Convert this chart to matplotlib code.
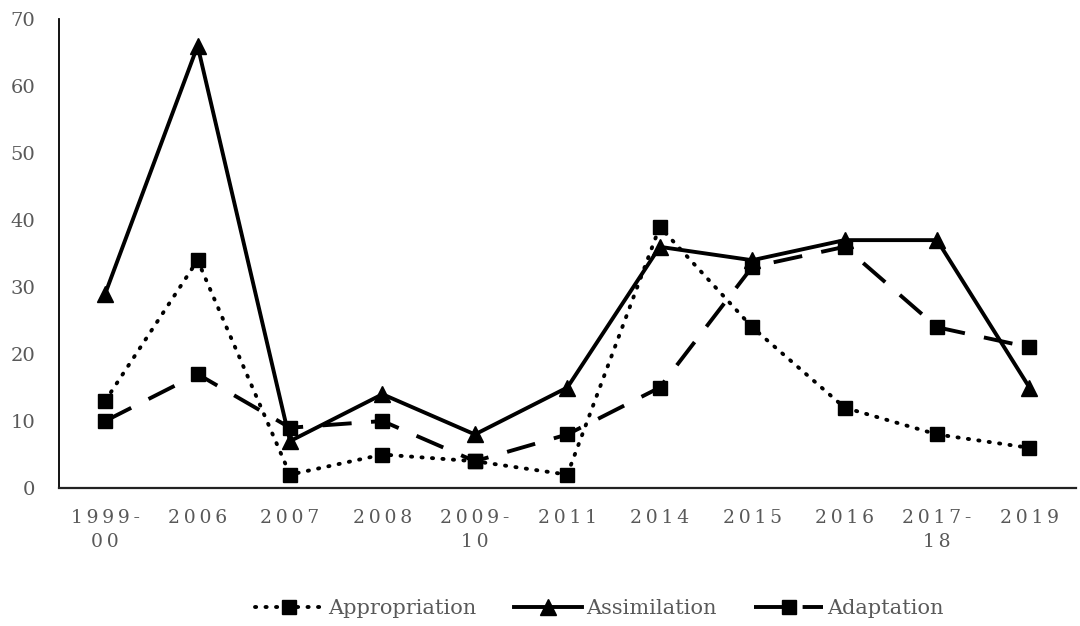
import matplotlib
matplotlib.use("Agg")
import matplotlib.pyplot as plt

periods = ["1999-\n00", "2006", "2007", "2008", "2009-\n10", "2011",
           "2014", "2015", "2016", "2017-\n18", "2019"]
appropriation = [13, 34, 2, 5, 4, 2, 39, 24, 12, 8, 6]
assimilation = [29, 66, 7, 14, 8, 15, 36, 34, 37, 37, 15]
adaptation = [10, 17, 9, 10, 4, 8, 15, 33, 36, 24, 21]
y_ticks = [0, 10, 20, 30, 40, 50, 60, 70]

plt.rcParams["font.family"] = ["DejaVu Serif"]
TICK_GRAY = "#595959"


def spaced(label):
    # widen character spacing of the category labels
    return "\n".join("\u2009".join(line) for line in label.split("\n"))


fig = plt.figure(figsize=(10.8, 6.26), dpi=100)
ax = fig.add_axes([0.0546, 0.2204, 0.9414, 0.7492])

x = list(range(len(periods)))

ax.plot(x, appropriation, color="black", linestyle=(0, (0.3, 2.4)),
        dash_capstyle="round", linewidth=2.8, marker="s", markersize=10,
        label="Appropriation", zorder=3)
ax.plot(x, assimilation, color="black", linestyle="-", linewidth=2.8,
        marker="^", markersize=11, label="Assimilation", zorder=4)
ax.plot(x, adaptation, color="black", linestyle=(0, (7.5, 5)),
        linewidth=2.8, marker="s", markersize=10, label="Adaptation",
        zorder=3)

ax.set_xlim(-0.5, len(periods) - 0.5)
ax.set_ylim(0, 70)
ax.set_yticks(y_ticks)
ax.set_xticks(x)
ax.set_xticklabels([spaced(p) for p in periods], fontsize=13.5,
                   color=TICK_GRAY, linespacing=1.45)
ax.set_yticklabels([str(v) for v in y_ticks], fontsize=14, color=TICK_GRAY)
ax.tick_params(axis="both", length=0)
ax.tick_params(axis="x", pad=15)
ax.tick_params(axis="y", pad=17)

for side in ("top", "right"):
    ax.spines[side].set_visible(False)
ax.spines["left"].set_linewidth(1.3)
ax.spines["bottom"].set_linewidth(1.6)
ax.spines["bottom"].set_color("#222222")

leg = fig.legend(loc="center", bbox_to_anchor=(0.555, 0.028), ncol=3,
                 frameon=False, fontsize=15, handlelength=3.3,
                 columnspacing=1.8, handletextpad=0.2)
for t in leg.get_texts():
    t.set_color(TICK_GRAY)

fig.savefig("out.png", dpi=100)
